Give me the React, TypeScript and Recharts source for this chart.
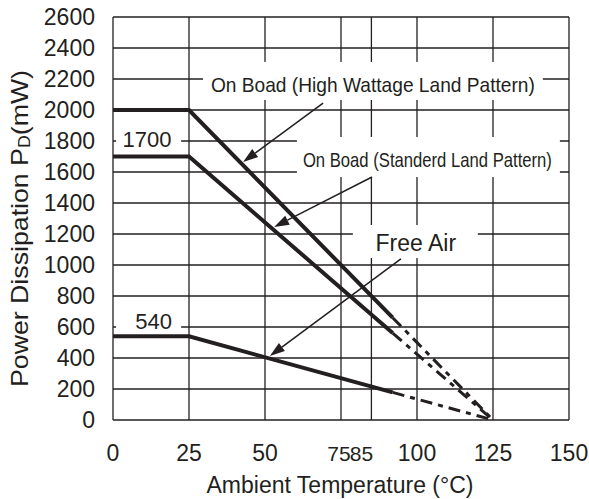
import { LineChart, Line, XAxis, YAxis, CartesianGrid, ReferenceArea, ReferenceLine } from 'recharts';

// derating curves: flat to 25°C, solid down to ~92°C, dash-dot to 0 at 125°C
const kneeTemps = [0, 25, 92];
const fadeTemps = [92, 125];
const highWattage = [2000, 2000, 660];
const highWattageFade = [660, 0];
const standard = [1700, 1700, 561];
const standardFade = [561, 0];
const freeAir = [540, 540, 178];
const freeAirFade = [178, 0];

const xTicks = [0, 25, 50, 75, 85, 100, 125, 150];
const yTicks = [0, 200, 400, 600, 800, 1000, 1200, 1400, 1600, 1800, 2000, 2200, 2400, 2600];

const toRows = (temps: number[], values: number[]) => temps.map((t, i) => ({ t, p: values[i] }));

const ink = '#231f20';
const font = '"Liberation Sans", Arial, sans-serif';
const narrow = '"Liberation Sans Narrow", "Liberation Sans", Arial, sans-serif';

// callout boxes (white patches over the grid), in data units
const callouts = [
  { text: 'On Boad (High Wattage Land Pattern)', t: [29.6, 141.4], p: [2065, 2310], size: 21, len: 324, dx: 0, dy: 11, family: narrow },
  { text: 'On Boad (Standerd Land Pattern)', t: [60.5, 147], p: [1568, 1826], size: 21, len: 249, dx: -1, dy: 10, family: narrow },
  { text: 'Free Air', t: [78.9, 120], p: [1045, 1258], size: 23, len: 0, dx: 0.5, dy: 9.5, family: font },
  { text: '1700', t: [1, 22.4], p: [1716, 1897], size: 22, len: 0, dx: -1.5, dy: 7, family: font },
  { text: '540', t: [1, 22.4], p: [548, 729], size: 22, len: 0, dx: 5, dy: 8, family: font },
];

const arrows = [
  { from: [69.1, 2045], to: [42.8, 1665] },
  { from: [85.2, 1568], to: [53, 1245] },
  { from: [94.7, 1039], to: [51.6, 413] },
];

const boxShape = (c: typeof callouts[number]) => (p: any) => (
  <g>
    <rect x={p.x} y={p.y} width={p.width} height={p.height} fill="#fff" />
    <text
      x={p.x + p.width / 2 + c.dx}
      y={p.y + p.height / 2 + c.dy}
      textAnchor="middle"
      fontSize={c.size}
      fontFamily={c.family}
      fill={ink}
      {...(c.len ? { textLength: c.len, lengthAdjust: 'spacingAndGlyphs' } : {})}
    >
      {c.text}
    </text>
  </g>
);

const arrowShape = (p: any) => {
  const { x1, y1, x2, y2 } = p;
  const dx = x2 - x1;
  const dy = y2 - y1;
  const d = Math.sqrt(dx * dx + dy * dy) || 1;
  const ux = dx / d;
  const uy = dy / d;
  const head = 15;
  const half = 5;
  const bx = x2 - ux * head;
  const by = y2 - uy * head;
  return (
    <g>
      <line x1={x1} y1={y1} x2={bx} y2={by} stroke={ink} strokeWidth={1.5} />
      <polygon
        points={`${x2},${y2} ${bx - uy * half},${by + ux * half} ${bx + uy * half},${by - ux * half}`}
        fill={ink}
      />
    </g>
  );
};

const XTick = (props: any) => {
  const { x, y, payload } = props;
  const v = payload.value;
  const shift = v === 85 ? -10 : v === 75 ? -2 : 0;
  const size = v === 75 || v === 85 ? 21 : 23;
  return (
    <text x={x + shift} y={y + 16} textAnchor="middle" fontSize={size} fontFamily={font} fill={ink}>
      {v}
    </text>
  );
};

export default function App() {
  return (
    <div style={{ position: 'absolute', left: 0, top: 0, width: 589, height: 499, background: '#fff' }}>
      <LineChart width={589} height={499} margin={{ top: 17, right: 20, bottom: 0, left: 0 }}>
        <CartesianGrid stroke={ink} strokeWidth={1.3} />
        <XAxis
          dataKey="t"
          type="number"
          domain={[0, 150]}
          ticks={xTicks}
          interval={0}
          height={79}
          axisLine={false}
          tickLine={false}
          tickSize={0}
          tickMargin={25}
          tick={<XTick />}
          label={{
            content: (lp: any) => (
              <text x={lp.viewBox.x + lp.viewBox.width / 2 - 1} y={lp.viewBox.y + 73} textAnchor="middle" fontSize={23} fontFamily={font} fill={ink}>
                Ambient Temperature (°C)
              </text>
            ),
          }}
        />
        <YAxis
          type="number"
          domain={[0, 2600]}
          ticks={yTicks}
          interval={0}
          width={113}
          axisLine={false}
          tickLine={false}
          tickSize={0}
          tickMargin={18}
          tick={{ fontSize: 23, fontFamily: font, fill: ink }}
          label={{
            content: () => (
              <text x={28} y={387} transform="rotate(-90 28 387)" textAnchor="start" fontSize={24} fontFamily={font} fill={ink} textLength={317} lengthAdjust="spacingAndGlyphs">
                Power Dissipation P
                <tspan fontSize={16} dy={2}>D</tspan>
                <tspan dy={-2}>(mW)</tspan>
              </text>
            ),
          }}
        />
        {callouts.map((c) => (
          <ReferenceArea key={c.text} x1={c.t[0]} x2={c.t[1]} y1={c.p[0]} y2={c.p[1]} shape={boxShape(c)} />
        ))}
        <Line data={toRows(kneeTemps, highWattage)} dataKey="p" type="linear" stroke={ink} strokeWidth={4} dot={false} isAnimationActive={false} />
        <Line data={toRows(fadeTemps, highWattageFade)} dataKey="p" type="linear" stroke={ink} strokeWidth={3} strokeDasharray="12 6 5 6" dot={false} isAnimationActive={false} />
        <Line data={toRows(kneeTemps, standard)} dataKey="p" type="linear" stroke={ink} strokeWidth={4} dot={false} isAnimationActive={false} />
        <Line data={toRows(fadeTemps, standardFade)} dataKey="p" type="linear" stroke={ink} strokeWidth={3} strokeDasharray="12 6 5 6" dot={false} isAnimationActive={false} />
        <Line data={toRows(kneeTemps, freeAir)} dataKey="p" type="linear" stroke={ink} strokeWidth={4} dot={false} isAnimationActive={false} />
        <Line data={toRows(fadeTemps, freeAirFade)} dataKey="p" type="linear" stroke={ink} strokeWidth={3} strokeDasharray="12 6 5 6" dot={false} isAnimationActive={false} />
        {arrows.map((a, i) => (
          <ReferenceLine
            key={i}
            segment={[{ x: a.from[0], y: a.from[1] }, { x: a.to[0], y: a.to[1] }]}
            shape={arrowShape}
          />
        ))}
      </LineChart>
    </div>
  );
}
